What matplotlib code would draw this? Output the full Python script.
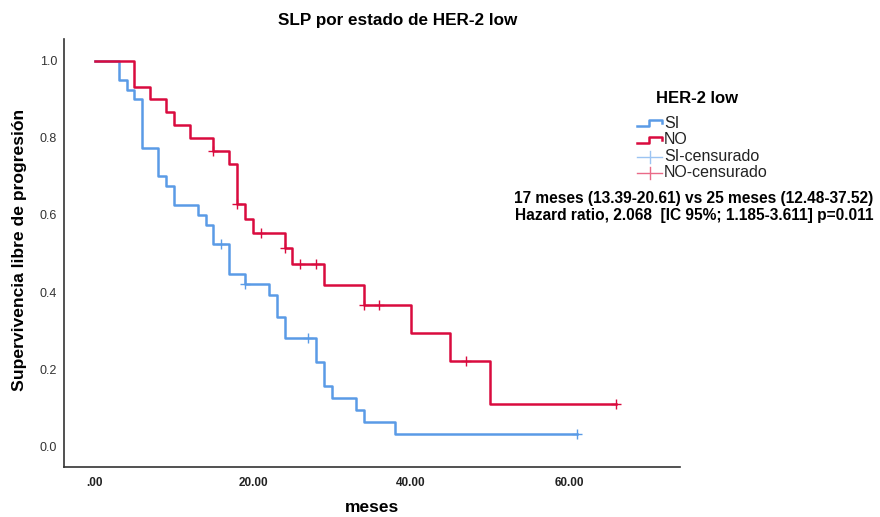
import numpy as np
import matplotlib
matplotlib.use("Agg")
import matplotlib.pyplot as plt
from matplotlib.lines import Line2D

# === DATA ===
si_time = [0, 3, 4, 5, 6, 8, 9, 10, 13, 14, 15, 17, 19, 22, 23, 24, 28, 29, 30, 33, 34, 38, 61]
si_surv = [1.0, 0.95, 0.925, 0.90, 0.775, 0.70, 0.675, 0.625, 0.60, 0.575, 0.525, 0.447, 0.42,
           0.392, 0.336, 0.28, 0.219, 0.156, 0.125, 0.094, 0.0625, 0.031, 0.031]
si_cens = [16, 19, 27, 61]

no_time = [0, 5, 7, 9, 10, 12, 15, 17, 18, 19, 20, 24, 25, 29, 34, 40, 45, 50, 66]
no_surv = [1.0, 0.933, 0.90, 0.867, 0.833, 0.80, 0.767, 0.733, 0.628, 0.59, 0.554, 0.513,
           0.473, 0.419, 0.367, 0.293, 0.22, 0.11, 0.11]
no_cens = [15, 18, 21, 24, 26, 28, 34, 36, 47, 66]

x_ticks = [0, 20, 40, 60]
x_ticklabels = [".00", "20.00", "40.00", "60.00"]
y_ticks = [0.0, 0.2, 0.4, 0.6, 0.8, 1.0]

legend_labels = ["SI", "NO", "SI-censurado", "NO-censurado"]
stats_text = ["17 meses (13.39-20.61) vs 25 meses (12.48-37.52)",
              "Hazard ratio, 2.068  [IC 95%; 1.185-3.611] p=0.011"]

# === STYLE ===
blue = "#5a9be6"
red = "#d90b3e"
blue_light = "#9cc4f2"
red_light = "#ea6a88"
plt.rcParams["font.family"] = ["Liberation Sans", "DejaVu Sans"]


def surv_at(times, surv, t):
    i = np.searchsorted(times, t, side="right") - 1
    return surv[i]


# === PLOT ===
fig = plt.figure(figsize=(8.8, 5.17), dpi=100)
ax = fig.add_axes([64 / 880, 1 - 467.3 / 517, (680 - 64) / 880, (467.3 - 39.3) / 517])

ax.step(si_time, si_surv, where="post", color=blue, lw=1.8)
ax.step(no_time, no_surv, where="post", color=red, lw=1.8)

ax.plot(si_cens, [surv_at(si_time, si_surv, t) for t in si_cens], ls="none",
        marker="+", ms=7, mew=1.0, color=blue)
ax.plot(no_cens, [surv_at(no_time, no_surv, t) for t in no_cens], ls="none",
        marker="+", ms=7, mew=1.0, color=red)

ax.set_xlim(-3.92, 74.05)
ax.set_ylim(-0.055, 1.056)
ax.set_xticks(x_ticks)
ax.set_xticklabels(x_ticklabels, fontsize=8.5, fontweight="bold", color="#222222")
ax.set_yticks(y_ticks)
ax.set_yticklabels([f"{v:.1f}" for v in y_ticks], fontsize=9, color="#333333")
ax.tick_params(axis="x", length=0, pad=7)
ax.tick_params(axis="y", length=0, pad=5)

for side in ["top", "right"]:
    ax.spines[side].set_visible(False)
for side in ["left", "bottom"]:
    ax.spines[side].set_color("#333333")
    ax.spines[side].set_linewidth(1.2)

fig.text(398 / 880, 1 - 20 / 517, "SLP por estado de HER-2 low", fontsize=12.3,
         fontweight="bold", ha="center", va="center")
fig.text(372 / 880, 1 - 508 / 517, "meses", fontsize=12.5, fontweight="bold",
         ha="center", va="center")
fig.text(20 / 880, 1 - 250 / 517, "Supervivencia libre de progresión", fontsize=12.6,
         fontweight="bold", ha="center", va="center", rotation=90)

# --- manual legend (SPSS style) ---
def px(x, y):
    return x / 880, 1 - y / 517

fig.text(*px(697, 99), "HER-2 low", fontsize=12, fontweight="bold", ha="center", va="center")
leg_y = [123, 139.5, 156.5, 172.5]
for k, (lab, y) in enumerate(zip(legend_labels, leg_y)):
    if k < 2:
        col = [blue, red][k]
        xs = [637, 649, 649, 662, 662]
        ys = [y + 3, y + 3, y - 3, y - 3, y]
        p = [px(a, b) for a, b in zip(xs, ys)]
        fig.add_artist(Line2D([q[0] for q in p], [q[1] for q in p], color=col, lw=1.8))
    else:
        col = [blue_light, red_light][k - 2]
        a, b = px(637, y)
        c, d = px(662, y)
        fig.add_artist(Line2D([a, c], [b, d], color=col, lw=1.0))
        a, b = px(649.5, y - 6)
        c, d = px(649.5, y + 6)
        fig.add_artist(Line2D([a, c], [b, d], color=col, lw=1.0))
    fig.text(*px(664, y), lab, fontsize=11.5, ha="left", va="center", color="#222222")

fig.text(*px(694, 198.5), stats_text[0], fontsize=11.2, fontweight="bold", ha="center", va="center")
fig.text(*px(694, 215), stats_text[1], fontsize=11.2, fontweight="bold", ha="center", va="center")

fig.savefig("out.png", dpi=100)
